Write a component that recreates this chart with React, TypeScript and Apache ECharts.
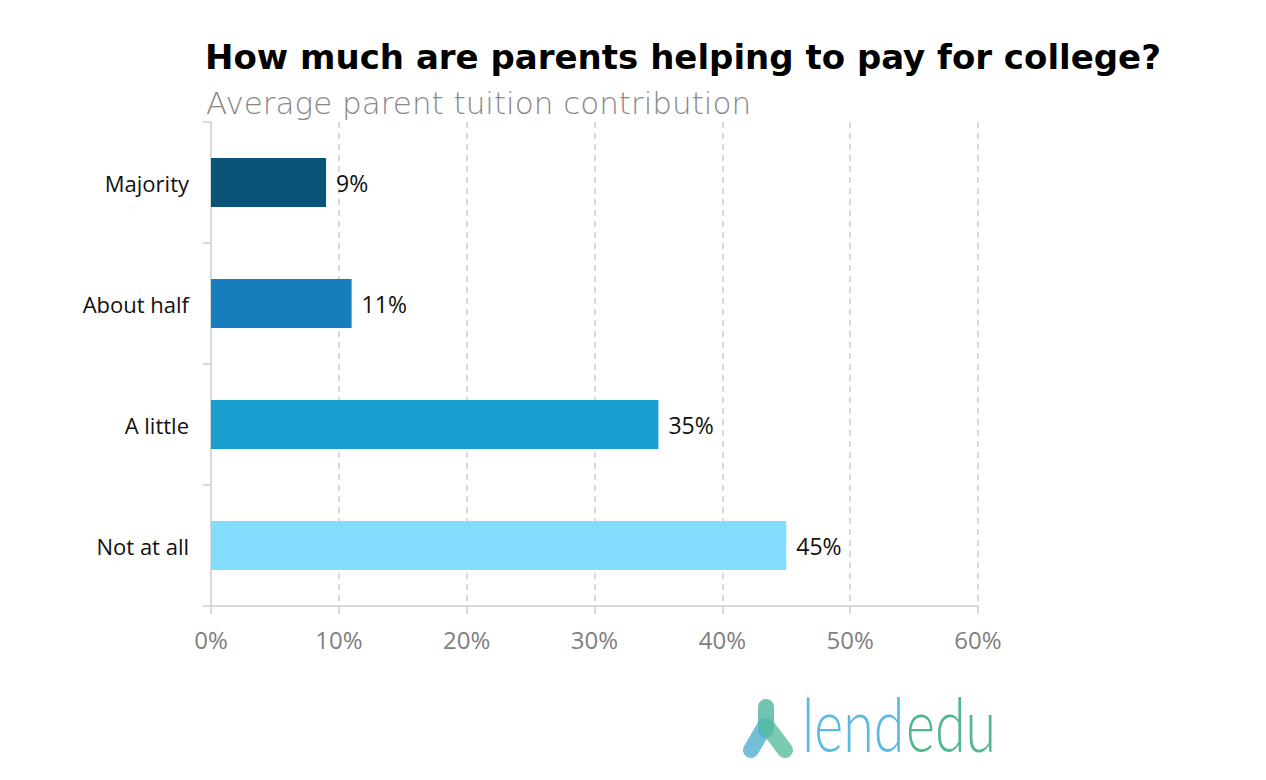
import React, { useEffect, useRef } from "react";
import * as echarts from "echarts";

const categories = ["Majority", "About half", "A little", "Not at all"];
const values = [9, 11, 35, 45];
const barColors = ["#0B5479", "#167FBB", "#199DCE", "#82DCFD"];
const xTicks = [0, 10, 20, 30, 40, 50, 60];

const TITLE = "How much are parents helping to pay for college?";
const SUBTITLE = "Average parent tuition contribution";

export default function App() {
  const ref = useRef<HTMLDivElement>(null);
  useEffect(() => {
    if (!ref.current) return;
    const chart = echarts.init(ref.current, undefined, { renderer: "svg" });
    const font = "'Open Sans', Lato, sans-serif";
    const dejavu = "'DejaVu Sans', 'Open Sans', sans-serif";
    const lato = "Lato, 'Open Sans', sans-serif";
    chart.setOption({
      animation: false,
      backgroundColor: "#ffffff",
      title: [
        {
          text: TITLE,
          left: 197,
          top: 32,
          padding: 0,
          textStyle: { fontFamily: dejavu, fontWeight: 700, fontSize: 34, color: "#000" },
        },
        {
          text: SUBTITLE,
          left: 198,
          top: 79,
          padding: 0,
          textStyle: { fontFamily: dejavu, fontWeight: 200, fontSize: 31, color: "#888888" },
        },
      ],
      grid: { left: 203, right: 280, top: 114, bottom: 166, containLabel: false },
      xAxis: {
        type: "value",
        min: xTicks[0],
        max: xTicks[xTicks.length - 1],
        interval: 10,
        axisLine: { show: true, lineStyle: { color: "#d9d9d9", width: 2 } },
        axisTick: { show: true, length: 8, lineStyle: { color: "#d9d9d9", width: 2 } },
        splitLine: { show: true, lineStyle: { color: "#d9d9d9", width: 2, type: [6, 5] } },
        axisLabel: {
          margin: 21,
          fontFamily: font,
          fontSize: 24,
          color: "#808080",
          formatter: (v: number) => v + "%",
        },
      },
      yAxis: {
        type: "category",
        data: categories,
        inverse: true,
        axisLine: { show: true, lineStyle: { color: "#d9d9d9", width: 2 } },
        axisTick: { show: true, length: 8, lineStyle: { color: "#d9d9d9", width: 2 } },
        axisLabel: { margin: 22, fontFamily: font, fontSize: 22, color: "#111" },
      },
      series: [
        {
          type: "bar",
          barWidth: 49,
          data: values.map((v, i) => ({ value: v, itemStyle: { color: barColors[i] } })),
          label: {
            show: true,
            position: "right",
            distance: 10,
            fontFamily: font,
            fontSize: 23,
            color: "#111",
            formatter: (p: any) => p.value + "%",
          },
        },
      ],
      graphic: [
        {
          type: "group",
          children: [
            {
              type: "line",
              shape: { x1: 758, y1: 699, x2: 758, y2: 722 },
              style: { stroke: "rgba(90,185,165,0.85)", lineWidth: 16, lineCap: "round" },
            },
            {
              type: "line",
              shape: { x1: 757, y1: 718, x2: 743, y2: 742 },
              style: { stroke: "rgba(80,175,205,0.8)", lineWidth: 16, lineCap: "round" },
            },
            {
              type: "line",
              shape: { x1: 759, y1: 718, x2: 777, y2: 742 },
              style: { stroke: "rgba(90,190,160,0.8)", lineWidth: 16, lineCap: "round" },
            },
            {
              type: "text",
              x: 794,
              y: 752,
              style: {
                text: "lend",
                fontFamily: lato,
                fontWeight: 300,
                fontSize: 74,
                fill: "#5BB9E2",
                verticalAlign: "bottom",
              },
              scaleX: 0.75,
            },
            {
              type: "text",
              x: 898,
              y: 752,
              style: {
                text: "edu",
                fontFamily: lato,
                fontWeight: 300,
                fontSize: 74,
                fill: "#52B68E",
                verticalAlign: "bottom",
              },
              scaleX: 0.75,
            },
          ],
        },
      ],
    });
    return () => chart.dispose();
  }, []);
  return <div ref={ref} style={{ width: 1250, height: 764 }} />;
}
